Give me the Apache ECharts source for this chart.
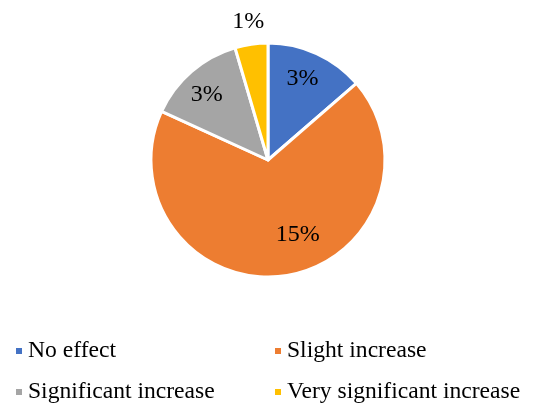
<!DOCTYPE html>
<html>
<head>
<meta charset="utf-8">
<script src="https://cdn.jsdelivr.net/npm/echarts@6/dist/echarts.min.js"></script>
<style>
  html, body { margin: 0; padding: 0; background: #fff; }
  #chart { width: 533px; height: 406px; }
</style>
</head>
<body>
<div id="chart"></div>
<script>
// Responses per effect level (label shows the value followed by %)
const categories = ['No effect', 'Slight increase', 'Significant increase', 'Very significant increase'];
const values = [3, 15, 3, 1];
const colors = ['#4472C4', '#ED7D31', '#A5A5A5', '#FFC000'];
// Fine placement of each value label relative to its default inside spot
const labelNudge = [[9, -25], [21, 14], [-21, -19], [-11, -77]];

const FONT = '"Liberation Serif", "Times New Roman", serif';

const pieData = categories.map((name, i) => ({
  name: name,
  value: values[i],
  itemStyle: { color: colors[i] },
  label: { offset: labelNudge[i] }
}));

const legendBase = {
  orient: 'vertical', top: 339, padding: 0, itemGap: 17,
  itemWidth: 8, itemHeight: 8, icon: 'rect',
  textStyle: { fontFamily: FONT, fontSize: 23.6, lineHeight: 24, color: '#000' }
};

const chart = echarts.init(document.getElementById('chart'), null, { renderer: 'canvas' });
chart.setOption({
  animation: false,
  backgroundColor: '#ffffff',
  legend: [
    Object.assign({}, legendBase, { left: 14, data: [categories[0], categories[2]] }),
    Object.assign({}, legendBase, { left: 273, data: [categories[1], categories[3]] })
  ],
  series: [{
    type: 'pie',
    center: [268, 160],
    radius: [0, 117],
    startAngle: 90,
    clockwise: true,
    avoidLabelOverlap: false,
    itemStyle: { borderColor: '#ffffff', borderWidth: 3 },
    label: {
      show: true,
      position: 'inside',
      formatter: p => p.value + '%',
      fontFamily: FONT,
      fontSize: 24,
      color: '#000'
    },
    labelLine: { show: false },
    emphasis: { disabled: true },
    data: pieData
  }]
});
</script>
</body>
</html>
